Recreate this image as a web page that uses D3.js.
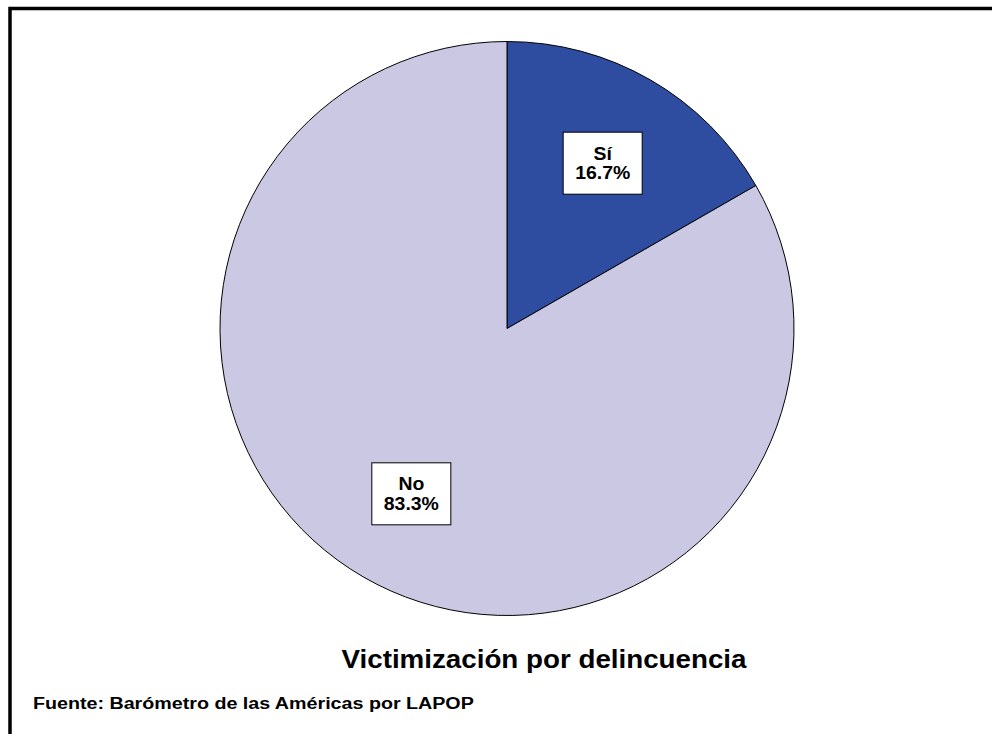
<!DOCTYPE html>
<html>
<head>
<meta charset="utf-8">
<script src="https://cdn.jsdelivr.net/npm/d3@7"></script>
<style>
  body { margin: 0; background: #fff; }
  svg { display: block; font-family: "Liberation Sans", Arial, sans-serif; }
</style>
</head>
<body>
<svg id="chart" width="992" height="734"></svg>
<script>
// --- Données ---
const categories = ["Sí", "No"];
const values = [16.7, 83.3];
const colors = ["#2e4da0", "#cbc8e4"];
const title = "Victimización por delincuencia";
const source = "Fuente: Barómetro de las Américas por LAPOP";

const svg = d3.select("#chart");
const cx = 507, cy = 328.5, radius = 287;

// cadre (gauche + haut seulement visibles)
svg.append("rect")
    .attr("x", 10).attr("y", 8.5)
    .attr("width", 1100).attr("height", 900)
    .attr("fill", "none").attr("stroke", "#000").attr("stroke-width", 3.5);

const data = categories.map((c, i) => ({ name: c, value: values[i], color: colors[i] }));

const pie = d3.pie().value(d => d.value).sort(null);
const arc = d3.arc().innerRadius(0).outerRadius(radius);
const labelArc = d3.arc().innerRadius(191).outerRadius(191);

const g = svg.append("g").attr("transform", `translate(${cx},${cy})`);

g.selectAll("path")
    .data(pie(data))
    .join("path")
    .attr("d", arc)
    .attr("fill", d => d.data.color)
    .attr("stroke", "#000")
    .attr("stroke-width", 1);

// étiquettes dans des boîtes blanches
const lab = g.selectAll("g.label")
    .data(pie(data))
    .join("g")
    .attr("class", "label")
    .attr("transform", d => `translate(${labelArc.centroid(d)})`);

lab.append("rect")
    .attr("x", -39.5).attr("y", -31)
    .attr("width", 79).attr("height", 62)
    .attr("fill", "#fff").attr("stroke", "#000").attr("stroke-width", 1);

const txt = lab.append("g").attr("transform", "scale(1.08,1)");

txt.append("text")
    .attr("text-anchor", "middle")
    .attr("y", -3.5)
    .attr("font-size", 18).attr("font-weight", "bold")
    .text(d => d.data.name);

txt.append("text")
    .attr("text-anchor", "middle")
    .attr("y", 16)
    .attr("font-size", 18).attr("font-weight", "bold")
    .text(d => d3.format(".1f")(d.data.value) + "%");

svg.append("text")
    .attr("transform", "translate(544,668) scale(1.11,1)")
    .attr("text-anchor", "middle")
    .attr("font-size", 25).attr("font-weight", "bold")
    .text(title);

svg.append("text")
    .attr("transform", "translate(33,709) scale(1.23,1)")
    .attr("font-size", 16).attr("font-weight", "bold")
    .text(source);
</script>
</body>
</html>
